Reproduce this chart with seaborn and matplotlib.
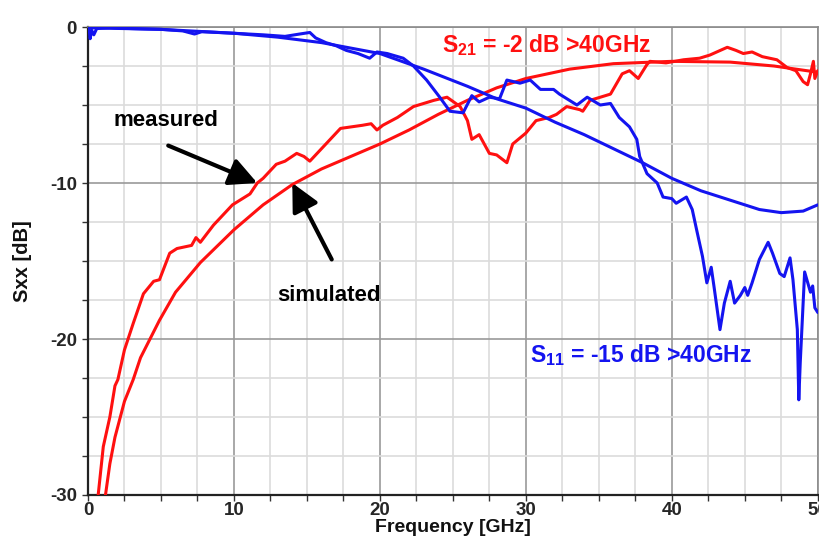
import pandas as pd
import numpy as np
import matplotlib
matplotlib.use("Agg")
import matplotlib.pyplot as plt
from matplotlib.ticker import MultipleLocator
import seaborn as sns

# simulated S21 (smooth red)
sim_s21_f = [1.0, 1.2, 1.5, 1.85, 2.5, 3.1, 3.6, 4.9, 6.0, 7.7, 10, 12, 14, 16, 18, 20,
             22, 24, 26, 28, 30, 33, 36, 40, 44, 47, 50]
sim_s21_db = [-31.5, -30, -28, -26.3, -24.0, -22.6, -21.2, -18.8, -17.0, -15.1, -13.0, -11.4,
              -10.1, -9.1, -8.3, -7.5, -6.6, -5.6, -4.7, -3.9, -3.3, -2.7, -2.35, -2.2, -2.25,
              -2.5, -2.9]

# simulated S11 (smooth blue)
sim_s11_f = [0, 5, 10, 13, 16, 20, 23, 26, 28, 30, 32, 34, 36, 38, 40, 42, 44, 46, 47.5, 49, 50]
sim_s11_db = [-0.05, -0.15, -0.4, -0.65, -1.0, -1.7, -2.7, -3.8, -4.6, -5.2, -6.1, -6.9, -7.8,
              -8.7, -9.7, -10.5, -11.1, -11.7, -11.9, -11.8, -11.4]

# measured S21 (noisy red)
meas_s21_f = [0.5, 0.7, 1.05, 1.5, 1.85, 2.05, 2.5, 3.1, 3.8, 4.5, 4.9, 5.6, 6.1, 7.1, 7.4, 7.7,
              8.6, 9.9, 11.1, 11.6, 12.0, 12.9, 13.5, 14.3, 14.8, 15.2, 15.9, 17.3, 18.8, 19.4,
              19.8, 20.2, 21.2, 22.3, 23.7, 24.6, 25.5, 26.0, 26.3, 26.8, 27.5, 28.0, 28.7,
              29.1, 30.0, 30.7, 31.6, 32.1, 32.8, 33.7, 33.9, 34.4, 35.8, 36.6, 37.1, 37.7,
              38.3, 38.5, 39.6, 40.8, 41.9, 42.6, 43.8, 44.4, 44.9, 45.5, 46.2, 47.2, 47.9,
              48.5, 49.0, 49.3, 49.5, 49.7, 49.8, 50.0]
meas_s21_db = [-32, -30, -26.9, -25, -23, -22.6, -20.7, -19, -17.1, -16.3, -16.2, -14.5, -14.2,
               -14.0, -13.5, -13.8, -12.7, -11.4, -10.7, -10.0, -9.7, -8.8, -8.6, -8.1, -8.3,
               -8.6, -7.9, -6.5, -6.3, -6.2, -6.6, -6.3, -5.8, -5.1, -4.7, -4.5, -5.1, -6.0,
               -7.2, -6.9, -8.1, -8.2, -8.7, -7.5, -6.8, -6.0, -5.8, -5.6, -5.1, -5.3, -5.4,
               -4.7, -4.3, -3.0, -2.8, -3.3, -2.4, -2.2, -2.3, -2.1, -2.0, -1.8, -1.3, -1.5,
               -1.7, -1.6, -1.9, -2.1, -2.6, -2.8, -3.5, -3.7, -3.0, -2.2, -3.3, -2.8]

# measured S11 (noisy blue)
meas_s11_f = [0, 0.1, 0.15, 0.25, 0.4, 0.6, 1.5, 3, 5, 6.5, 7.3, 7.8, 10, 12, 13.5, 14.5, 15.2,
              15.6, 16.3, 17.0, 17.7, 18.5, 19.3, 19.8, 20.5, 21.6, 22.3, 23.2, 24.1, 24.8,
              25.7, 26.3, 26.8, 27.5, 28.2, 28.7, 29.6, 30.3, 31.0, 31.9, 32.3, 33.5, 34.2,
              35.1, 35.8, 36.4, 37.1, 37.6, 37.8, 38.3, 39.0, 39.4, 40.0, 40.3, 41.0, 41.4,
              41.7, 42.1, 42.4, 42.7, 42.9, 43.3, 43.6, 44.0, 44.3, 44.7, 45.0, 45.2, 45.5,
              46.0, 46.6, 46.9, 47.4, 47.7, 48.1, 48.3, 48.6, 48.7, 48.8, 49.1, 49.5, 49.65,
              49.8, 50.0]
meas_s11_db = [-0.05, -0.3, -0.75, -0.2, -0.5, -0.1, -0.05, -0.1, -0.15, -0.25, -0.45, -0.3,
               -0.4, -0.5, -0.6, -0.45, -0.35, -0.7, -1.0, -1.2, -1.5, -1.7, -2.0, -1.6, -1.7,
               -2.0, -2.5, -3.4, -4.5, -5.4, -5.5, -4.4, -4.8, -4.5, -4.6, -3.4, -3.6, -3.4,
               -4.0, -4.0, -4.3, -5.0, -4.5, -5.0, -4.9, -5.8, -6.4, -7.2, -8.3, -9.4, -10.0,
               -10.9, -11.0, -11.3, -10.9, -11.7, -13.0, -14.7, -16.4, -15.4, -16.7, -19.4,
               -17.7, -16.3, -17.7, -17.2, -16.7, -17.2, -16.4, -14.9, -13.8, -14.5, -15.8,
               -16.0, -14.8, -16.2, -19.4, -23.9, -21.5, -15.7, -17.0, -16.6, -18.0, -18.3]

RED = "#ff1010"
BLUE = "#1414f0"

sns.set_theme(style="white")
plt.rcParams["font.family"] = ["Liberation Sans", "DejaVu Sans"]
plt.rcParams["font.weight"] = "bold"
plt.rcParams["axes.unicode_minus"] = False
plt.rcParams["mathtext.fontset"] = "custom"
plt.rcParams["mathtext.rm"] = "Liberation Sans:bold"

fig, ax = plt.subplots(figsize=(8.19, 5.36), dpi=100)
fig.subplots_adjust(left=0.1074, right=0.9985, bottom=0.0765, top=0.9496)

curves = [
    (sim_s21_f, sim_s21_db, RED),
    (meas_s21_f, meas_s21_db, RED),
    (sim_s11_f, sim_s11_db, BLUE),
    (meas_s11_f, meas_s11_db, BLUE),
]
for f, db, c in curves:
    df = pd.DataFrame({"f": f, "db": db})
    sns.lineplot(data=df, x="f", y="db", ax=ax, color=c, lw=2.2,
                 estimator=None, sort=False, zorder=3)

ax.set_xlim(0, 50)
ax.set_ylim(-30, 0)
ax.xaxis.set_major_locator(MultipleLocator(10))
ax.xaxis.set_minor_locator(MultipleLocator(2.5))
ax.yaxis.set_major_locator(MultipleLocator(10))
ax.yaxis.set_minor_locator(MultipleLocator(2.5))

ax.grid(which="major", color="#9a9a9a", lw=1.2, zorder=0)
ax.grid(which="minor", color="#dcdcdc", lw=1.2, zorder=0)
# a few minor horizontal lines are absent in the original
for tick in ax.yaxis.get_minor_ticks():
    if round(tick.get_loc(), 2) in (-2.5, -7.5, -25.0):
        tick.gridline.set_visible(False)

ax.tick_params(which="both", direction="out", length=4, width=1, color="#333333",
               left=True, bottom=True)
ax.tick_params(axis="y", which="major", labelsize=13.5, pad=4)
ax.tick_params(axis="x", which="major", labelsize=13.5, pad=1)
for lab in ax.get_xticklabels() + ax.get_yticklabels():
    lab.set_fontweight("bold")

for s in ("left", "bottom"):
    ax.spines[s].set_color("#222222")
    ax.spines[s].set_linewidth(1.6)
for s in ("top", "right"):
    ax.spines[s].set_color("#8a8a8a")
    ax.spines[s].set_linewidth(1.2)

ax.set_xlabel("Frequency [GHz]", fontsize=14, fontweight="bold", color="#111111")
ax.set_ylabel("Sxx [dB]", fontsize=14.5, fontweight="bold", color="#111111")
ax.xaxis.set_label_coords(0.5, -0.052)
ax.yaxis.set_label_coords(-0.077, 0.5)

ax.text(31.4, -1.15, "S$_{21}$ = -2 dB >40GHz", color=RED, fontsize=16.5, fontweight="bold",
        ha="center", va="center")
ax.text(37.9, -21.0, "S$_{11}$ = -15 dB >40GHz", color=BLUE, fontsize=16.5, fontweight="bold",
        ha="center", va="center")
ax.text(5.35, -6.0, "measured", color="black", fontsize=16, fontweight="bold",
        ha="center", va="center")
ax.text(16.5, -17.2, "simulated", color="black", fontsize=16, fontweight="bold",
        ha="center", va="center")

arrow = dict(arrowstyle="-|>,head_length=1.4,head_width=0.7", color="black", lw=3,
             shrinkA=0, shrinkB=0)
ax.annotate("", xy=(11.6, -10.0), xytext=(5.5, -7.6), arrowprops=arrow, zorder=4)
ax.annotate("", xy=(14.0, -10.0), xytext=(16.7, -14.9), arrowprops=arrow, zorder=4)

fig.savefig("out.png", dpi=100)
